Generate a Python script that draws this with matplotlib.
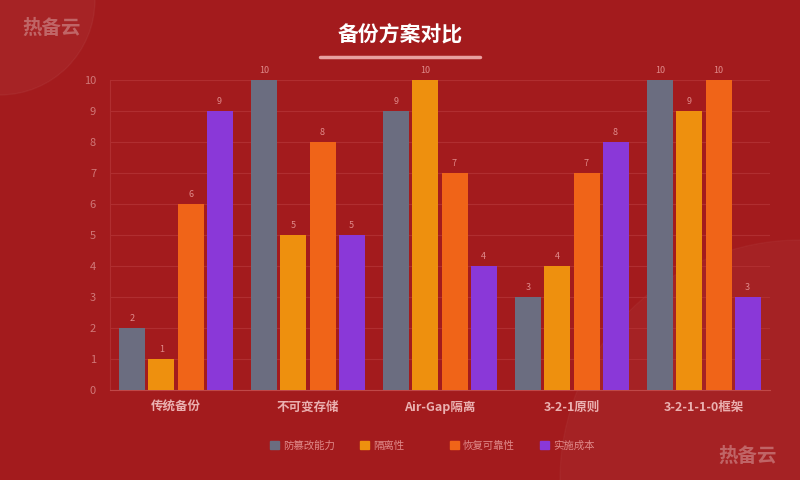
import matplotlib
matplotlib.use("Agg")
import matplotlib.pyplot as plt
import numpy as np
from matplotlib.patches import Circle, Patch

plt.rcParams['font.family'] = ['Noto Sans CJK SC', 'DejaVu Sans']

categories = ["传统备份", "不可变存储", "Air-Gap隔离", "3-2-1原则", "3-2-1-1-0框架"]
series_names = ["防篡改能力", "隔离性", "恢复可靠性", "实施成本"]
tamper = [2, 10, 9, 3, 10]
isolation = [1, 5, 10, 4, 9]
recovery = [6, 8, 7, 7, 10]
cost = [9, 5, 4, 8, 3]
colors = ["#6b6d80", "#ee900e", "#f06418", "#8a38d8"]

fig = plt.figure(figsize=(8, 4.8), dpi=100)
fig.patch.set_facecolor("#a31b1d")
bg = fig.add_axes([0, 0, 1, 1]); bg.set_xlim(0, 800); bg.set_ylim(480, 0); bg.axis('off')
bg.add_patch(Circle((0, 0), 95, color="white", alpha=0.04))
bg.add_patch(Circle((800, 480), 240, color="white", alpha=0.03))
bg.text(22, 28, "热备云", fontsize=14, fontweight='bold', color="#ffffff", alpha=0.3, va='center')
bg.text(718, 456, "热备云", fontsize=14, fontweight='bold', color="#ffffff", alpha=0.3, va='center')
bg.text(400, 35, "备份方案对比", fontsize=15, fontweight='bold', color="white", ha='center', va='center')
bg.plot([320, 480], [57, 57], color="#e8a0a0", lw=2.5, solid_capstyle='round')

ax = fig.add_axes([110/800, 90/480, 660/800, 310/480])
ax.set_facecolor("none")
x = np.arange(len(categories))
w = 0.197; step = 0.22
for i, (vals, c) in enumerate(zip([tamper, isolation, recovery, cost], colors)):
    xs = x + (i - 1.5) * step
    ax.bar(xs, vals, width=w, color=c, zorder=3)
    for xx, v in zip(xs, vals):
        ax.text(xx, v + 0.15, str(v), ha='center', va='bottom', fontsize=6.5, color="#e08a8a")
ax.set_xlim(-0.5, 4.5)
ax.set_ylim(0, 10)
ax.set_yticks(range(11))
ax.grid(axis='y', color="#b02e30", lw=0.8, zorder=0)
for s in ["top", "right"]:
    ax.spines[s].set_visible(False)
ax.spines["left"].set_color("#b02e30")
ax.spines["bottom"].set_color("#c04848")
ax.tick_params(axis='y', colors="#d07878", labelsize=8, length=0, pad=10)
ax.tick_params(axis='x', colors="#e8b0b0", length=0, pad=8)
ax.set_xticks(x)
ax.set_xticklabels(categories, fontsize=9, fontweight='bold', color="#eab0b0")

# legend entries at evenly spaced positions, like the reference
for i, (name, c) in enumerate(zip(series_names, colors)):
    lg = fig.legend(handles=[Patch(color=c, label=name)], loc='center left',
                    bbox_to_anchor=((261 + 90 * i) / 800, 1 - 446 / 480), frameon=False,
                    fontsize=7.5, handlelength=0.8, handleheight=0.8, handletextpad=0.4)
    for t in lg.get_texts():
        t.set_color("#e08a8a")
fig.savefig("out.png", dpi=100, facecolor=fig.get_facecolor())
